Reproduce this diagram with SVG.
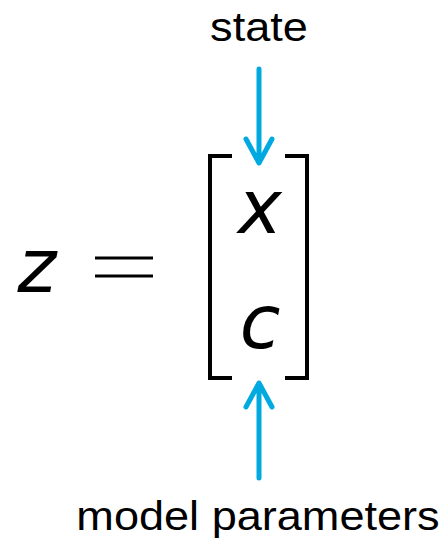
<svg xmlns="http://www.w3.org/2000/svg" width="447" height="539" viewBox="0 0 447 539">
<style>
.lbl{font-family:"Liberation Sans",Arial,sans-serif;font-size:41px;fill:#000}
.math{font-family:"DejaVu Sans",sans-serif;font-style:italic;font-size:74px;fill:#000}
.br{fill:none;stroke:#000;stroke-width:4;stroke-linecap:butt}
.arr{fill:none;stroke:#00A9E0;stroke-width:5;stroke-linecap:round;stroke-linejoin:round}
</style>
<rect width="447" height="539" fill="#fff"/>
<g id="state"><text class="lbl" x="259" y="41" text-anchor="middle" transform="translate(259 0) scale(1.1 1) translate(-259 0)">state</text></g>
<g id="params"><text class="lbl" x="258" y="530" text-anchor="middle" transform="translate(258 0) scale(1.1 1) translate(-258 0)">model parameters</text></g>
<g id="equation">
<text class="math" x="37" y="292" text-anchor="middle">z</text>
<line x1="95" y1="258" x2="153" y2="258" stroke="#000" stroke-width="3"/>
<line x1="95" y1="276" x2="153" y2="276" stroke="#000" stroke-width="3"/>
</g>
<g id="vector">
<path class="br" d="M232 156 H210 V378 H232"/>
<path class="br" d="M285 156 H307 V378 H285"/>
<text class="math" x="260" y="233" text-anchor="middle">x</text>
<text class="math" x="260" y="348" text-anchor="middle">c</text>
</g>
<g id="connectors">
<path class="arr" d="M259 69 V162 M246 139 L259 163 L272 139"/>
<path class="arr" d="M259 478 V384 M246 407 L259 383 L272 407"/>
</g>
</svg>
